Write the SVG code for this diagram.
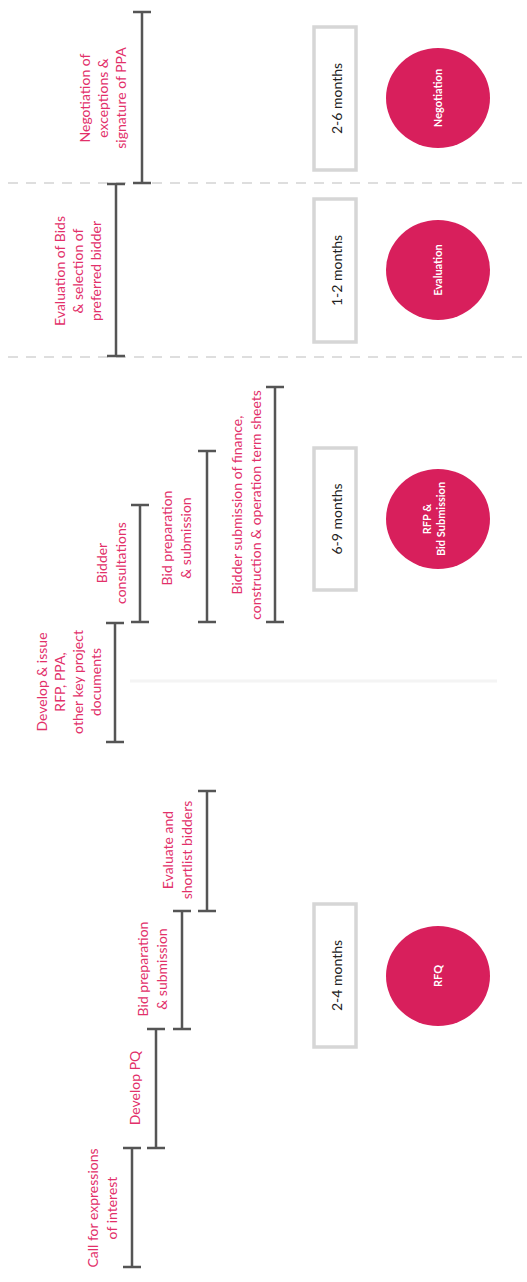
<svg xmlns="http://www.w3.org/2000/svg" width="527" height="1282" viewBox="0 0 527 1282">
<style>
.lbl{font-family:Lato,"Liberation Sans",sans-serif;font-size:14px;fill:#e2306a;text-anchor:middle}
.dur{font-family:Lato,"Liberation Sans",sans-serif;font-size:14px;fill:#222;text-anchor:middle}
.ph{font-family:Lato,"Liberation Sans",sans-serif;font-size:11px;font-weight:bold;fill:#fff;text-anchor:middle}
.bar{stroke:#555;stroke-width:2.5;fill:none}
.box{fill:#fff;stroke:#d6d6d6;stroke-width:3.5}
.circ{fill:#d81f5c}
.sep{stroke:#dedede;stroke-width:2;stroke-dasharray:10 8}
</style>
<rect width="527" height="1282" fill="#fff"/>
<g id="separators">
<line class="sep" x1="8" y1="183" x2="522" y2="183"/>
<line class="sep" x1="8" y1="357" x2="522" y2="357"/>
<line x1="130" y1="681" x2="497" y2="681" stroke="#f4f4f4" stroke-width="3"/>
</g>
<g id="connectors">
<path class="bar" d="M142 12V183M133 12H151M133 183H151"/>
<path class="bar" d="M116 184V356M107 184H125M107 356H125"/>
<path class="bar" d="M275 387V622M266 387H284M266 622H284"/>
<path class="bar" d="M207 451V622M198 451H216M198 622H216"/>
<path class="bar" d="M140 505V622M131 505H149M131 622H149"/>
<path class="bar" d="M115 623V742M106 623H124M106 742H124"/>
<path class="bar" d="M207 791V911M198 791H216M198 911H216"/>
<path class="bar" d="M182 911V1029M173 911H191M173 1029H191"/>
<path class="bar" d="M156 1029V1148M147 1029H165M147 1148H165"/>
<path class="bar" d="M132 1148V1267M123 1148H141M123 1267H141"/>
</g>
<g id="label-negotiation" transform="translate(0,98) rotate(-90)">
<text class="lbl" x="0" y="90">Negotiation of</text>
<text class="lbl" x="0" y="108">exceptions &amp;</text>
<text class="lbl" x="0" y="126">signature of PPA</text>
</g>
<g id="label-evaluation" transform="translate(0,271) rotate(-90)">
<text class="lbl" x="0" y="65">Evaluation of Bids</text>
<text class="lbl" x="0" y="83">&amp; selection of</text>
<text class="lbl" x="0" y="101">preferred bidder</text>
</g>
<g id="label-bidder-submission" transform="translate(0,505) rotate(-90)">
<text class="lbl" x="0" y="242">Bidder submission of finance,</text>
<text class="lbl" x="0" y="261">construction &amp; operation term sheets</text>
</g>
<g id="label-bid-prep-rfp" transform="translate(0,538) rotate(-90)">
<text class="lbl" x="0" y="172">Bid preparation</text>
<text class="lbl" x="0" y="191">&amp; submission</text>
</g>
<g id="label-consultations" transform="translate(0,563) rotate(-90)">
<text class="lbl" x="0" y="107">Bidder</text>
<text class="lbl" x="0" y="126">consultations</text>
</g>
<g id="label-develop-issue" transform="translate(0,682) rotate(-90)">
<text class="lbl" x="0" y="47">Develop &amp; issue</text>
<text class="lbl" x="0" y="65">RFP, PPA,</text>
<text class="lbl" x="0" y="83">other key project</text>
<text class="lbl" x="0" y="101">documents</text>
</g>
<g id="label-shortlist" transform="translate(0,850) rotate(-90)">
<text class="lbl" x="0" y="173">Evaluate and</text>
<text class="lbl" x="0" y="192">shortlist bidders</text>
</g>
<g id="label-bid-prep-rfq" transform="translate(0,969) rotate(-90)">
<text class="lbl" x="0" y="148">Bid preparation</text>
<text class="lbl" x="0" y="167">&amp; submission</text>
</g>
<g id="label-develop-pq" transform="translate(0,1088) rotate(-90)">
<text class="lbl" x="0" y="140">Develop PQ</text>
</g>
<g id="label-call" transform="translate(0,1208) rotate(-90)">
<text class="lbl" x="0" y="98">Call for expressions</text>
<text class="lbl" x="0" y="117">of interest</text>
</g>
<g id="dur-2-6">
<rect class="box" x="314" y="27" width="42" height="143"/>
<text class="dur" transform="translate(341.5,98.5) rotate(-90)">2-6 months</text>
</g>
<g id="dur-1-2">
<rect class="box" x="314" y="199" width="42" height="143"/>
<text class="dur" transform="translate(341.5,270.5) rotate(-90)">1-2 months</text>
</g>
<g id="dur-6-9">
<rect class="box" x="314" y="448" width="42" height="142"/>
<text class="dur" transform="translate(341.5,519) rotate(-90)">6-9 months</text>
</g>
<g id="dur-2-4">
<rect class="box" x="314" y="904" width="42" height="143"/>
<text class="dur" transform="translate(341.5,975.5) rotate(-90)">2-4 months</text>
</g>
<g id="phase-negotiation">
<ellipse class="circ" cx="438" cy="98" rx="52" ry="50"/>
<text class="ph" transform="translate(442,98) rotate(-90)">Negotiation</text>
</g>
<g id="phase-evaluation">
<ellipse class="circ" cx="438" cy="270" rx="52" ry="50"/>
<text class="ph" transform="translate(442,270) rotate(-90)">Evaluation</text>
</g>
<g id="phase-rfp">
<ellipse class="circ" cx="438" cy="519" rx="52" ry="50"/>
<g transform="translate(0,519) rotate(-90)">
<text class="ph" x="0" y="431">RFP &amp;</text>
<text class="ph" x="0" y="445">Bid Submission</text>
</g>
</g>
<g id="phase-rfq">
<ellipse class="circ" cx="438" cy="976" rx="52" ry="50"/>
<text class="ph" transform="translate(442,976) rotate(-90)">RFQ</text>
</g>
</svg>
